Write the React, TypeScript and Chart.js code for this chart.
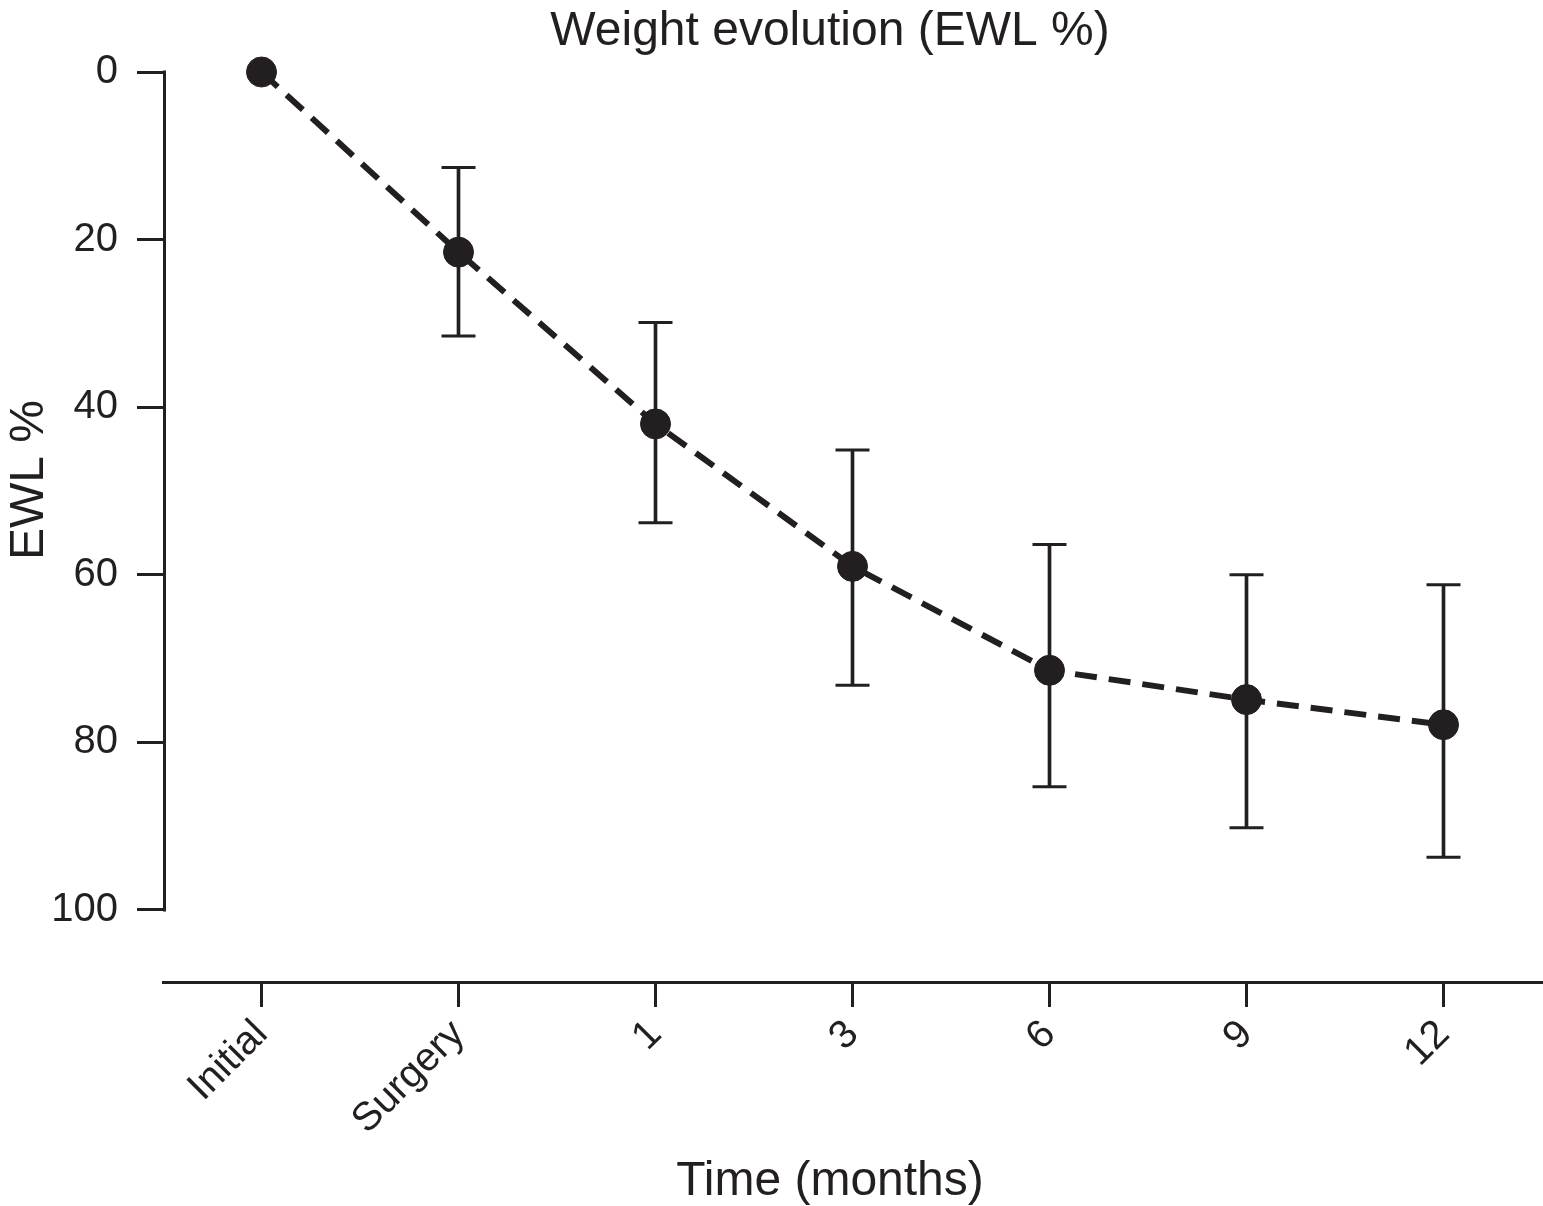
import React, { useEffect, useRef } from "react";
import { Chart, registerables } from "chart.js";

Chart.register(...registerables);

// ---- data ----
const categories = ["Initial", "Surgery", "1", "3", "6", "9", "12"];
const ewlMean = [0, 21.5, 42.0, 59.0, 71.4, 74.9, 77.9];
const errLow = [null, 11.4, 29.9, 45.1, 56.4, 60.0, 61.2];
const errHigh = [null, 31.5, 53.8, 73.2, 85.3, 90.2, 93.7];
const yTicks = [0, 20, 40, 60, 80, 100];
const chartTitle = "Weight evolution (EWL %)";
const xTitle = "Time (months)";
const yTitle = "EWL %";

const INK = "#231f20";
const FONT = "'Liberation Sans', Arial, Helvetica, sans-serif";
const W = 1543;
const H = 1206;

const titlesPlugin = {
  id: "customTitles",
  afterDraw(chart: any) {
    const ctx = chart.ctx;
    const cx = 830;
    ctx.save();
    ctx.fillStyle = INK;
    ctx.font = `48px ${FONT}`;
    ctx.textAlign = "center";
    ctx.textBaseline = "alphabetic";
    ctx.fillText(chartTitle, cx, 45);
    ctx.fillText(xTitle, cx, 1195);
    ctx.translate(43, 480);
    ctx.rotate(-Math.PI / 2);
    ctx.fillText(yTitle, 0, 0);
    ctx.restore();
  },
};

const yAxisLinePlugin = {
  id: "yAxisLine",
  beforeDatasetsDraw(chart: any) {
    const ctx = chart.ctx;
    const y = chart.scales.y;
    const x = chart.chartArea.left + 1.5;
    const top = y.getPixelForValue(yTicks[0]) - 1.5;
    const bottom = y.getPixelForValue(yTicks[yTicks.length - 1]) + 1.5;
    ctx.save();
    ctx.strokeStyle = INK;
    ctx.lineWidth = 3;
    ctx.beginPath();
    ctx.moveTo(x, top);
    ctx.lineTo(x, bottom);
    ctx.stroke();
    ctx.restore();
  },
};

export default function App() {
  const canvasRef = useRef<HTMLCanvasElement | null>(null);

  useEffect(() => {
    if (!canvasRef.current) return;
    const chart = new Chart(canvasRef.current, {
      type: "line",
      data: {
        labels: categories,
        datasets: [
          {
            type: "line",
            label: "EWL %",
            data: ewlMean,
            borderColor: INK,
            borderWidth: 6,
            borderDash: [22, 12],
            pointRadius: 15,
            pointBackgroundColor: INK,
            pointBorderColor: INK,
            pointBorderWidth: 1,
            tension: 0,
            fill: false,
            clip: false,
            order: 0,
          } as any,
          {
            type: "bar",
            label: "SD",
            data: errLow.map((l, i) => (l == null ? null : [l, errHigh[i]])),
            backgroundColor: INK,
            borderWidth: 0,
            barThickness: 3,
            clip: false,
            order: 2,
          } as any,
          {
            type: "line",
            label: "SD low",
            data: errLow,
            showLine: false,
            pointStyle: "line",
            pointRadius: 17,
            pointBorderWidth: 3,
            pointBorderColor: INK,
            borderColor: INK,
            clip: false,
            order: 1,
          } as any,
          {
            type: "line",
            label: "SD high",
            data: errHigh,
            showLine: false,
            pointStyle: "line",
            pointRadius: 17,
            pointBorderWidth: 3,
            pointBorderColor: INK,
            borderColor: INK,
            clip: false,
            order: 1,
          } as any,
        ],
      },
      options: {
        animation: false,
        responsive: false,
        devicePixelRatio: 1,
        layout: {
          autoPadding: false,
          padding: { top: 72, left: 0, right: 1, bottom: 0 },
        },
        plugins: {
          legend: { display: false },
          tooltip: { enabled: false },
          title: { display: false },
        },
        scales: {
          x: {
            type: "category",
            offset: true,
            grid: {
              display: true,
              drawOnChartArea: false,
              drawTicks: true,
              tickLength: 25,
              tickWidth: 3,
              tickColor: INK,
              offset: false,
            },
            border: { display: true, color: INK, width: 3 },
            ticks: {
              font: { family: FONT, size: 40 },
              color: INK,
              minRotation: 45,
              maxRotation: 45,
              padding: 4,
              autoSkip: false,
            },
            afterFit: (s: any) => {
              s.height = 224;
              s.paddingLeft = 0;
              s.paddingRight = 0;
            },
          },
          y: {
            type: "linear",
            reverse: true,
            min: 0,
            max: 108.6,
            grid: {
              display: true,
              drawOnChartArea: false,
              drawTicks: true,
              tickLength: 26,
              tickWidth: 3,
              tickColor: INK,
            },
            border: { display: false },
            ticks: {
              font: { family: FONT, size: 40 },
              color: INK,
              padding: 19,
            },
            afterBuildTicks: (s: any) => {
              s.ticks = yTicks.map((v) => ({ value: v }));
            },
            afterFit: (s: any) => {
              s.width = 163;
              s.paddingTop = 0;
              s.paddingBottom = 0;
            },
          },
        },
      } as any,
      plugins: [titlesPlugin, yAxisLinePlugin],
    });
    return () => chart.destroy();
  }, []);

  return (
    <div
      style={{
        position: "fixed",
        left: 0,
        top: 0,
        width: W,
        height: H,
        background: "#ffffff",
      }}
    >
      <canvas
        ref={canvasRef}
        width={W}
        height={H}
        style={{ display: "block", width: W, height: H }}
      />
    </div>
  );
}
